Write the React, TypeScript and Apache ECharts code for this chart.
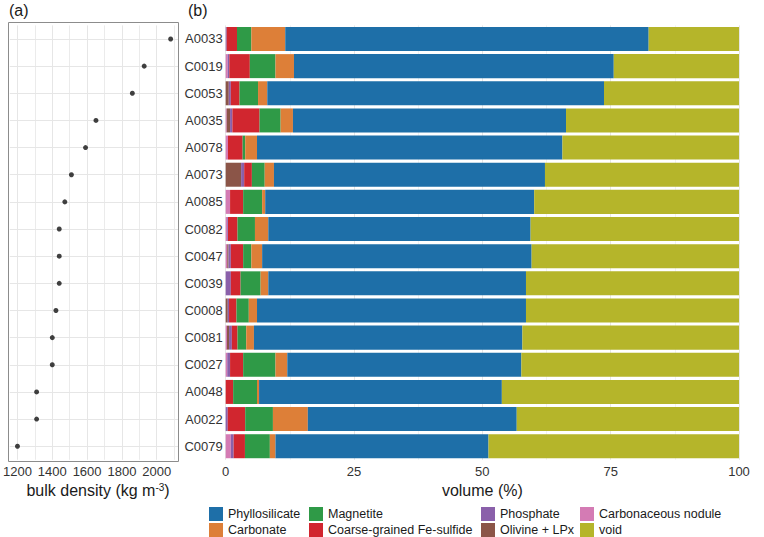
import React, { useEffect, useRef } from "react";
import * as echarts from "echarts";

// Samples (top to bottom)
const categories = [
  "A0033", "C0019", "C0053", "A0035", "A0078", "A0073", "A0085", "C0082",
  "C0047", "C0039", "C0008", "C0081", "C0027", "A0048", "A0022", "C0079",
];

// Panel (a): bulk density (kg m-3)
const bulkDensity = [2080, 1928, 1860, 1651, 1591, 1510, 1472, 1440, 1440, 1440, 1421, 1400, 1400, 1310, 1310, 1200];
const densityLabelValues = [1200, 1400, 1600, 1800, 2000];
const densityGridValues = [1200, 1300, 1400, 1500, 1600, 1700, 1800, 1900, 2000, 2100];

// Panel (b): volume (%) per component, stacked left to right
const carbonaceousNodule = [0, 0.4, 0, 0.2, 0.45, 0, 0.85, 0.3, 0.3, 0, 0, 0.25, 0.3, 0, 0, 1.0];
const olivineLPx = [0, 0, 0.6, 0.65, 0, 3.0, 0, 0, 0.25, 0, 0.4, 0.4, 0, 0, 0, 0];
const phosphate = [0.2, 0.3, 0.4, 0.45, 0, 0.6, 0, 0.15, 0.45, 1.0, 0.25, 0.55, 0.55, 0, 0.4, 0.55];
const feSulfide = [2.0, 4.0, 1.7, 5.3, 2.85, 1.5, 2.55, 1.85, 2.4, 1.9, 1.45, 1.1, 2.55, 1.45, 3.4, 2.2];
const magnetite = [2.8, 5.0, 3.6, 4.1, 0.5, 2.5, 3.7, 3.4, 1.6, 3.9, 2.4, 1.7, 6.3, 4.65, 5.4, 4.85];
const carbonate = [6.6, 3.6, 1.8, 2.4, 2.3, 1.8, 0.6, 2.6, 2.1, 1.5, 1.6, 1.5, 2.3, 0.4, 6.8, 1.1];
const phyllosilicate = [70.8, 62.3, 65.6, 53.2, 59.5, 52.8, 52.4, 51.1, 52.5, 50.2, 52.4, 52.3, 45.6, 47.3, 40.7, 41.5];
const voidFraction = [17.6, 24.4, 26.3, 33.7, 34.4, 37.8, 39.9, 40.6, 40.4, 41.5, 41.5, 42.2, 42.4, 46.2, 43.3, 48.8];

const stackNames = [
  "Carbonaceous nodule", "Olivine + LPx", "Phosphate", "Coarse-grained Fe-sulfide",
  "Magnetite", "Carbonate", "Phyllosilicate", "void",
];
const stackValues = [carbonaceousNodule, olivineLPx, phosphate, feSulfide, magnetite, carbonate, phyllosilicate, voidFraction];
const stackColors = ["#d47bb4", "#8b5548", "#8a60aa", "#d1262f", "#2f9a47", "#dd7f38", "#1e6fa8", "#b5b52a"];

const legendColumns = [
  ["Phyllosilicate", "Carbonate"],
  ["Magnetite", "Coarse-grained Fe-sulfide"],
  ["Phosphate", "Olivine + LPx"],
  ["Carbonaceous nodule", "void"],
];
const legendLefts = [209, 309, 481, 580];

const FONT = "'Liberation Sans', Arial, Helvetica, sans-serif";

export default function App() {
  const ref = useRef<HTMLDivElement>(null);

  useEffect(() => {
    if (!ref.current) return;
    const chart = echarts.init(ref.current, null, { renderer: "svg" });

    const gridTop = 25.4;
    const gridHeight = 434.4;

    const barSeries = stackNames.map((name, i) => ({
      name,
      type: "bar",
      stack: "vol",
      xAxisIndex: 1,
      yAxisIndex: 1,
      barCategoryGap: "11.6%",
      itemStyle: { color: stackColors[i] },
      emphasis: { disabled: true },
      data: stackValues[i],
      z: 3,
    }));

    const option: any = {
      animation: false,
      textStyle: { fontFamily: FONT },
      title: [
        { text: "(a)", left: 9, top: 2, padding: 0, textStyle: { fontSize: 16, fontWeight: "normal", color: "#1a1a1a", fontFamily: FONT } },
        { text: "(b)", left: 188, top: 2, padding: 0, textStyle: { fontSize: 16, fontWeight: "normal", color: "#1a1a1a", fontFamily: FONT } },
      ],
      grid: [
        { left: 8, top: gridTop, width: 170.3, height: gridHeight, show: false },
        { left: 225.7, top: gridTop, width: 513.3, height: gridHeight, show: false },
      ],
      legend: legendColumns.map((col, i) => ({
        left: legendLefts[i],
        top: 507,
        orient: "vertical",
        padding: 0,
        itemGap: 2,
        itemWidth: 14,
        itemHeight: 14,
        icon: "rect",
        selectedMode: false,
        data: col,
        textStyle: { fontSize: 12.5, color: "#1a1a1a", fontFamily: FONT },
      })),
      xAxis: [
        {
          type: "value",
          gridIndex: 0,
          min: 1156,
          max: 2124,
          axisLine: { show: false },
          axisTick: { show: false },
          splitLine: { show: false },
          axisLabel: {
            customValues: densityLabelValues,
            formatter: (v: number) => (v % 200 === 0 && v >= 1200 && v <= 2000 ? String(v) : ""),
            fontSize: 13,
            color: "#333",
            margin: 5,
            fontFamily: FONT,
          },
          name: "bulk density (kg m{sup|-3})",
          nameLocation: "middle",
          nameGap: 18,
          nameTextStyle: {
            fontSize: 16,
            color: "#1a1a1a",
            fontFamily: FONT,
            padding: [0, 0, 0, 8],
            rich: { sup: { fontSize: 10, verticalAlign: "top", color: "#1a1a1a", fontFamily: FONT } },
          },
        },
        {
          type: "value",
          gridIndex: 1,
          min: 0,
          max: 100,
          interval: 25,
          axisLine: { show: false },
          axisTick: { show: false },
          splitLine: { show: true, lineStyle: { color: "#e6e6e6", width: 1 } },
          minorTick: { show: false, splitNumber: 2 },
          minorSplitLine: { show: true, lineStyle: { color: "#ececec", width: 0.7 } },
          axisLabel: { fontSize: 13, color: "#333", margin: 5, fontFamily: FONT },
          name: "volume (%)",
          nameLocation: "middle",
          nameGap: 18,
          nameTextStyle: { fontSize: 16, color: "#1a1a1a", fontFamily: FONT },
        },
      ],
      yAxis: [
        {
          type: "category",
          gridIndex: 0,
          inverse: true,
          data: categories,
          axisLine: { show: false },
          axisTick: { show: false },
          axisLabel: { show: false },
          splitLine: { show: false },
        },
        {
          type: "category",
          gridIndex: 1,
          inverse: true,
          data: categories,
          axisLine: { show: false },
          axisTick: { show: false },
          splitLine: { show: false },
          axisLabel: { fontSize: 13, color: "#333", margin: 3, fontFamily: FONT },
        },
      ],
      series: [
        {
          name: "bulk density",
          type: "scatter",
          xAxisIndex: 0,
          yAxisIndex: 0,
          symbol: "circle",
          symbolSize: 5,
          itemStyle: { color: "#111111" },
          emphasis: { disabled: true },
          data: bulkDensity.map((v, i) => [v, categories[i]]),
          z: 5,
          markLine: {
            silent: true,
            z: 1,
            symbol: ["none", "none"],
            label: { show: false },
            emphasis: { disabled: true },
            lineStyle: { color: "#e6e6e6", width: 1, type: "solid" },
            data: [
              ...densityGridValues.map((v) => ({
                xAxis: v,
                lineStyle: { color: "#e6e6e6", width: v % 200 === 0 ? 1 : 0.8, type: "solid" },
              })),
              ...categories.map((c) => ({ yAxis: c, lineStyle: { color: "#e6e6e6", width: 1, type: "solid" } })),
            ],
          },
        },
        ...barSeries,
      ],
      graphic: [
        {
          type: "rect",
          z: 100,
          silent: true,
          shape: { x: 8.5, y: 22.5, width: 170, height: 439 },
          style: { fill: "none", stroke: "#8c8c8c", lineWidth: 1 },
        },
      ],
    };

    chart.setOption(option);
    return () => chart.dispose();
  }, []);

  return (
    <div
      ref={ref}
      style={{ position: "absolute", left: 0, top: 0, width: 764, height: 537, background: "#ffffff" }}
    />
  );
}
